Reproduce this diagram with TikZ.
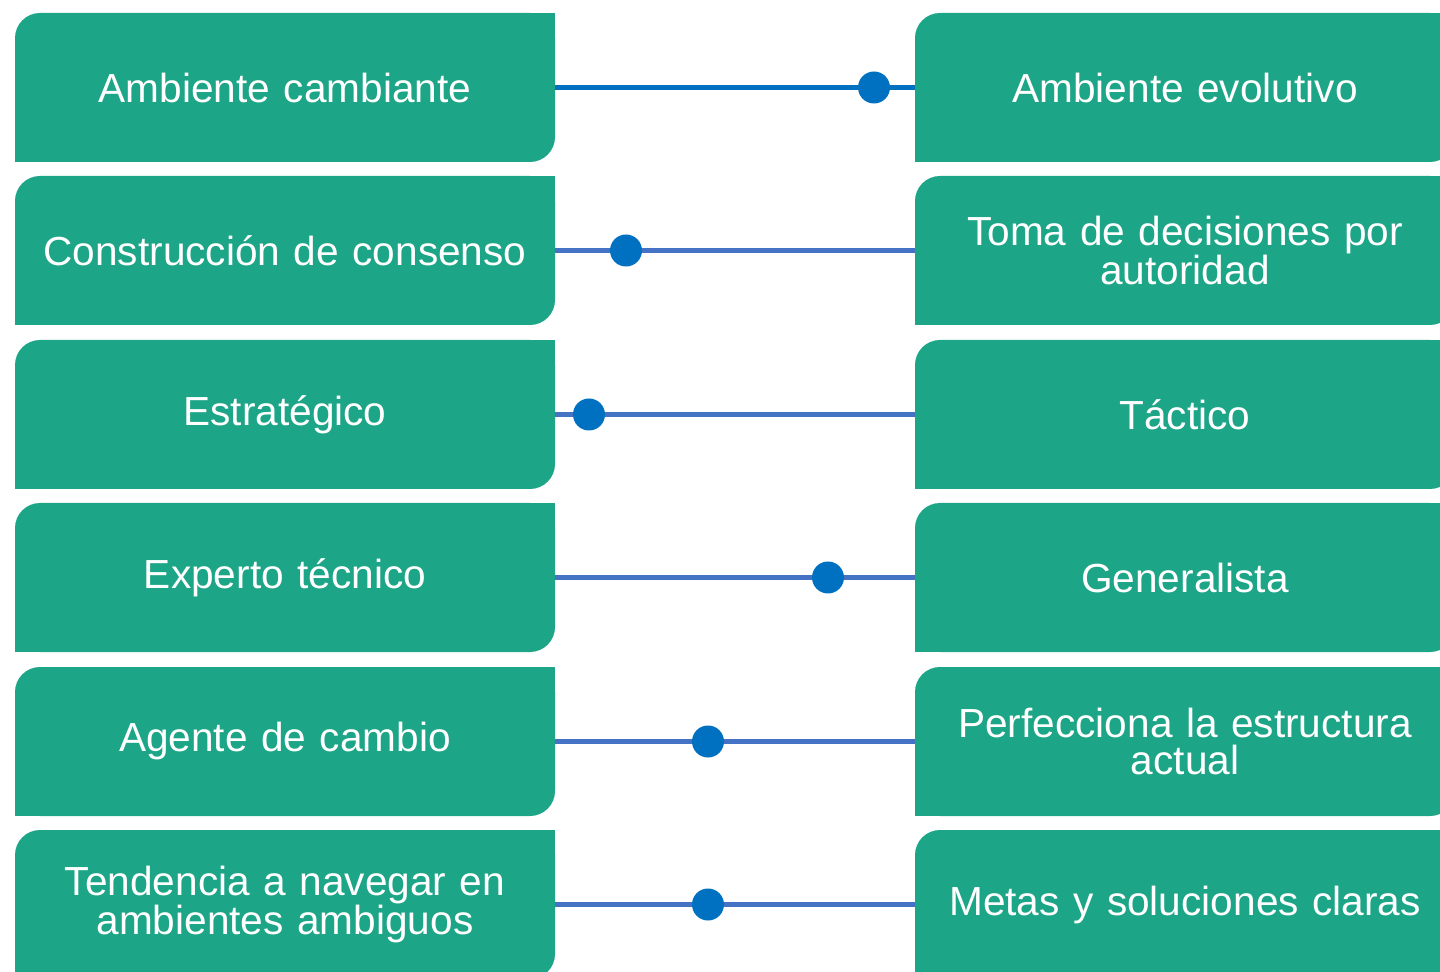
\documentclass[tikz,border=0pt]{standalone}
\usepackage{fontspec}
\setmainfont{Liberation Sans}[WordSpace=0.8]
\definecolor{boxfill}{HTML}{1CA586}
\definecolor{lineA}{HTML}{0070C0}
\definecolor{lineB}{HTML}{4472C4}
\definecolor{dotc}{HTML}{0070C0}
\tikzset{
  box/.style={rectangle, fill=boxfill, rounded corners=12.5pt, minimum width=270pt, minimum height=74.5pt,
    inner sep=0pt, text=white, align=center, text width=262pt,
    font=\fontsize{20.3pt}{18.5pt}\selectfont},
  link/.style={draw=lineB, line width=2.5pt},
  linkA/.style={draw=lineA, line width=2.5pt},
  dot/.style={circle, fill=dotc, minimum size=16pt, inner sep=0pt},
  sq/.style={fill=boxfill}
}
\begin{document}
\begin{tikzpicture}[x=0.5pt,y=-0.5pt]
\useasboundingbox (0,0) rectangle (1440,972);
% left boxes
\node[box] (L1) at (285,87.5) {Ambiente cambiante};
\node[box] (L2) at (285,250.5) {Construcción de consenso};
\node[box] (L3) at (285,414.5) {Estratégico};
\node[box] (L4) at (285,577.5) {Experto técnico};
\node[box] (L5) at (285,741.5) {Agente de cambio};
\node[box] (L6) at (285,904.5) {Tendencia a navegar en\\ambientes ambiguos};
% right boxes
\node[box] (R1) at (1185,87.5) {Ambiente evolutivo};
\node[box] (R2) at (1185,250.5) {Toma de decisiones por\\autoridad};
\node[box] (R3) at (1185,414.5) {Táctico};
\node[box] (R4) at (1185,577.5) {Generalista};
\node[box] (R5) at (1185,741.5) {Perfecciona la estructura\\actual};
\node[box] (R6) at (1185,904.5) {Metas y soluciones claras};
% square corners (top-right and bottom-left)
\foreach \n in {L1,L2,L3,L4,L5,L6,R1,R2,R3,R4,R5,R6}{
  \fill[sq] (\n.north east) rectangle ++(-14pt,-14pt);
  \fill[sq] (\n.south west) rectangle ++(14pt,14pt);
}
% connectors
\draw[linkA] (L1.east) -- (R1.west);
\draw[link] (L2.east) -- (R2.west);
\draw[link] (L3.east) -- (R3.west);
\draw[link] (L4.east) -- (R4.west);
\draw[link] (L5.east) -- (R5.west);
\draw[link] (L6.east) -- (R6.west);
% dots
\node[dot] (D1) at (874,87.5) {};
\node[dot] (D2) at (626,250.5) {};
\node[dot] (D3) at (589,414.5) {};
\node[dot] (D4) at (828,577.5) {};
\node[dot] (D5) at (708,741.5) {};
\node[dot] (D6) at (708,904.5) {};
\end{tikzpicture}
\end{document}
